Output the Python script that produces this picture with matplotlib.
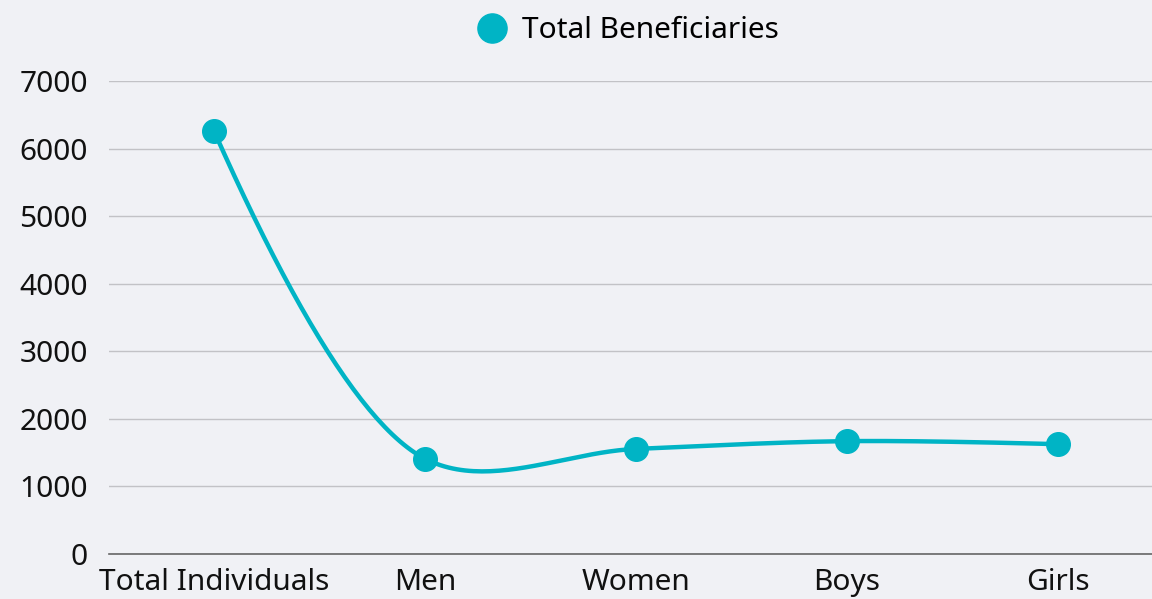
import numpy as np
import matplotlib.pyplot as plt
from matplotlib.lines import Line2D

categories = ["Total Individuals", "Men", "Women", "Boys", "Girls"]
beneficiaries = [6260, 1410, 1555, 1670, 1625]
y_ticks = [0, 1000, 2000, 3000, 4000, 5000, 6000, 7000]

LINE = "#00B4C5"
BG = "#F0F1F5"
FONT = ["Noto Sans", "DejaVu Sans"]


def bezier(p, n=50):
    t = np.linspace(0, 1, n)[:, None]
    if len(p) == 3:
        return (1 - t) ** 2 * p[0] + 2 * (1 - t) * t * p[1] + t ** 2 * p[2]
    return ((1 - t) ** 3 * p[0] + 3 * (1 - t) ** 2 * t * p[1]
            + 3 * (1 - t) * t ** 2 * p[2] + t ** 3 * p[3])


def tangent(prev, cur, nxt, smooth=1.0):
    # centripetal catmull-rom style control points
    d1 = prev - cur
    d2 = nxt - cur
    d1a = np.hypot(*d1) ** 0.5
    d2a = np.hypot(*d2) ** 0.5
    num = (d2a ** 2 * d1 - d1a ** 2 * d2) * smooth
    den1 = 3 * d2a * (d1a + d2a)
    den2 = 3 * d1a * (d1a + d2a)
    return cur + num / den1, cur - num / den2


def smooth_line(xs, ys, sx, sy):
    pts = np.column_stack([np.asarray(xs, float) * sx, np.asarray(ys, float) * sy])
    tans = [tangent(pts[i - 1], pts[i], pts[i + 1]) for i in range(1, len(pts) - 1)]
    segs = [bezier([pts[0], tans[0][0], pts[1]])]
    for i in range(2, len(pts) - 1):
        segs.append(bezier([pts[i - 1], tans[i - 2][1], tans[i - 1][0], pts[i]]))
    segs.append(bezier([pts[-2], tans[-1][1], pts[-1]]))
    out = np.vstack(segs)
    return out[:, 0] / sx, out[:, 1] / sy


fig = plt.figure(figsize=(11.52, 5.99), dpi=100, facecolor=BG)
ax = fig.add_axes([108.5 / 1152, 45 / 599, 1055 / 1152, 473 / 599])
ax.set_facecolor(BG)

x = np.arange(len(categories))
# pixel scale used for the curve shape
sx = 211.0
sy = 473.0 / 7000
cx, cy = smooth_line(x, beneficiaries, sx, sy)
ax.plot(cx, cy, color=LINE, lw=3.2, solid_capstyle="round", zorder=3)
ax.plot(x, beneficiaries, "o", color=LINE, ms=17, zorder=4)

ax.set_xlim(-0.5, len(categories) - 0.5)
ax.set_ylim(0, 7000)
ax.set_yticks(y_ticks)
ax.set_xticks(x)
ax.set_xticklabels(categories)
ax.tick_params(length=0, labelsize=21.5, colors="#111111")
ax.tick_params(axis="y", pad=15)
ax.tick_params(axis="x", pad=10)
for lab in ax.get_xticklabels() + ax.get_yticklabels():
    lab.set_family(FONT)

ax.grid(axis="y", color="#C2C2C6", lw=1)
ax.set_axisbelow(True)
for s in ["top", "right", "left"]:
    ax.spines[s].set_visible(False)
ax.spines["bottom"].set_color("#666666")
ax.spines["bottom"].set_linewidth(1.2)

handle = Line2D([], [], marker="o", color=LINE, lw=0, ms=21)
fig.legend([handle], ["Total Beneficiaries"], loc="center", bbox_to_anchor=(628 / 1152, 1 - 31 / 599),
           frameon=False, prop={"family": FONT, "size": 21.5}, handletextpad=0.5, handlelength=1.0)

fig.savefig("out.png", dpi=100, facecolor=BG)
